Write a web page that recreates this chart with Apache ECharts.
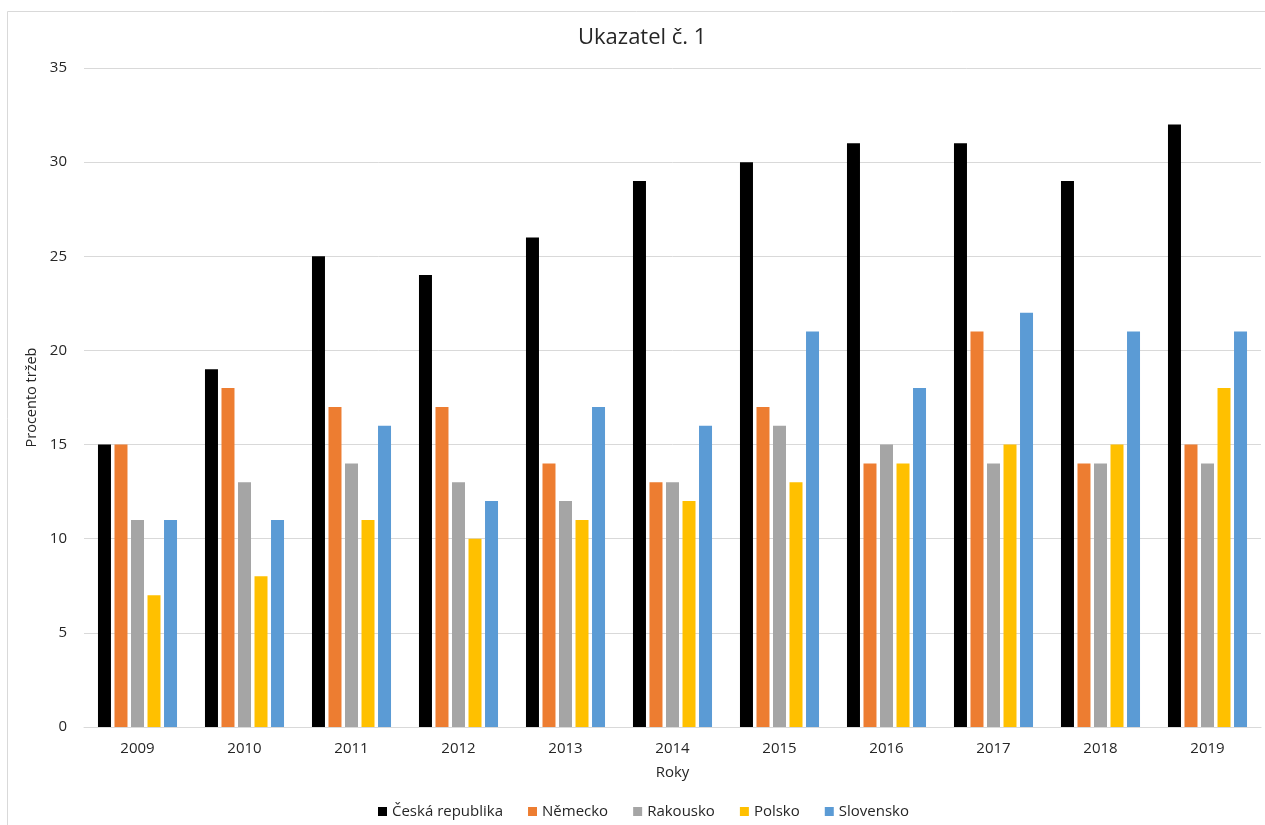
<!DOCTYPE html>
<html>
<head>
<meta charset="utf-8">
<script src="https://cdn.jsdelivr.net/npm/echarts@6/dist/echarts.min.js"></script>
<style>
  html, body { margin: 0; padding: 0; background: #fff; }
  #chart { width: 1265px; height: 825px; }
</style>
</head>
<body>
<div id="chart"></div>
<script>
const years = ['2009', '2010', '2011', '2012', '2013', '2014', '2015', '2016', '2017', '2018', '2019'];
const seriesNames = ['Česká republika', 'Německo', 'Rakousko', 'Polsko', 'Slovensko'];
const seriesColors = ['#000000', '#ed7d31', '#a5a5a5', '#ffc000', '#5b9bd5'];
const ceskaRepublika = [15, 19, 25, 24, 26, 29, 30, 31, 31, 29, 32];
const nemecko = [15, 18, 17, 17, 14, 13, 17, 14, 21, 14, 15];
const rakousko = [11, 13, 14, 13, 12, 13, 16, 15, 14, 14, 14];
const polsko = [7, 8, 11, 10, 11, 12, 13, 14, 15, 15, 18];
const slovensko = [11, 11, 16, 12, 17, 16, 21, 18, 22, 21, 21];
const seriesValues = [ceskaRepublika, nemecko, rakousko, polsko, slovensko];

const font = '"Open Sans", "Noto Sans", sans-serif';
const textColor = '#262626';
const chart = echarts.init(document.getElementById('chart'));

chart.setOption({
  animation: false,
  backgroundColor: '#ffffff',
  textStyle: { fontFamily: font },
  graphic: [{
    type: 'rect',
    shape: { x: 7.5, y: 11.5, width: 1400, height: 900 },
    style: { fill: 'none', stroke: '#d9d9d9', lineWidth: 1 },
    silent: true,
    z: -1
  }],
  title: {
    text: 'Ukazatel č. 1',
    left: 573,
    top: 22,
    textStyle: { fontFamily: font, fontSize: 22, fontWeight: 'normal', color: textColor }
  },
  legend: {
    top: 799,
    left: 373,
    itemWidth: 9,
    itemHeight: 9,
    itemGap: 25,
    icon: 'rect',
    textStyle: { fontFamily: font, fontSize: 15, color: textColor },
    data: seriesNames
  },
  grid: { left: 84, right: 4, top: 68, bottom: 98 },
  xAxis: {
    type: 'category',
    data: years,
    name: 'Roky',
    nameLocation: 'middle',
    nameGap: 38.5,
    nameTextStyle: { fontFamily: font, fontSize: 15, color: textColor },
    axisLine: { lineStyle: { color: '#d9d9d9' } },
    axisTick: { show: false },
    axisLabel: { fontFamily: font, fontSize: 15, color: textColor, margin: 14 }
  },
  yAxis: {
    type: 'value',
    min: 0,
    max: 35,
    interval: 5,
    name: 'Procento tržeb',
    nameLocation: 'middle',
    nameGap: 39,
    nameTextStyle: { fontFamily: font, fontSize: 14.5, color: textColor },
    axisLine: { show: false },
    axisTick: { show: false },
    axisLabel: { fontFamily: font, fontSize: 15, color: textColor, margin: 17 },
    splitLine: { lineStyle: { color: '#d9d9d9' } }
  },
  series: seriesNames.map((name, i) => ({
    name: name,
    type: 'bar',
    data: seriesValues[i],
    itemStyle: { color: seriesColors[i] },
    barWidth: 13,
    barGap: '27%'
  }))
});
</script>
</body>
</html>
